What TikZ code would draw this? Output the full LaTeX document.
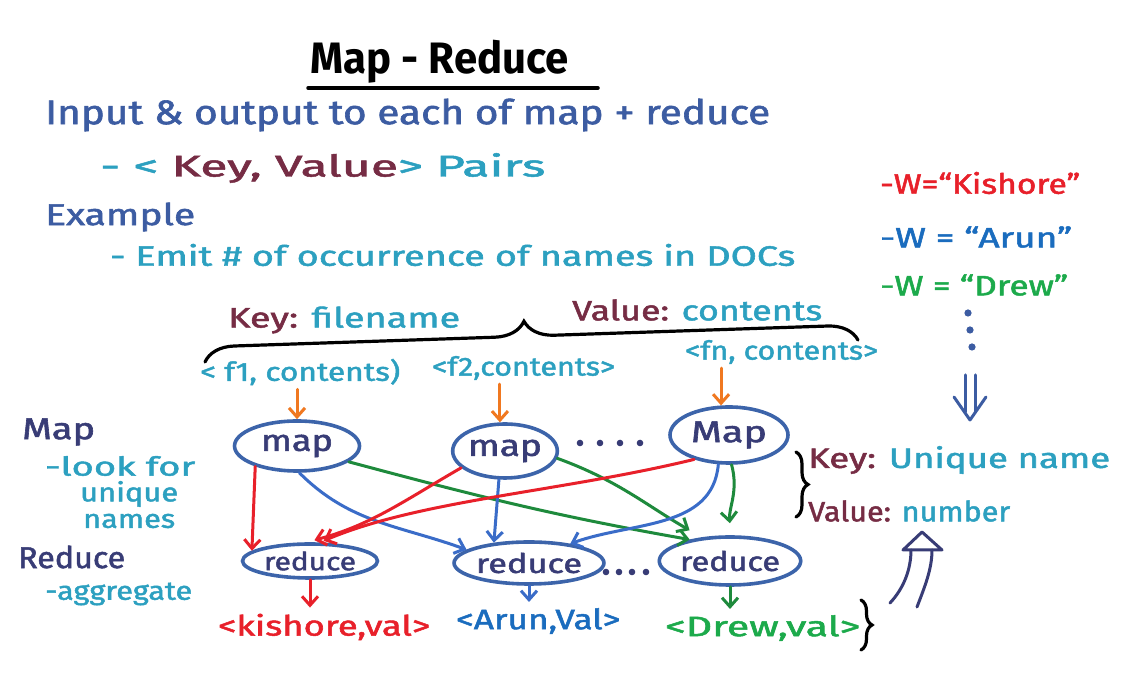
\documentclass[tikz,border=0pt]{standalone}
\usepackage{fontspec}
\setmainfont{Fira Sans}[UprightFeatures={FakeBold=1.6}]
\usepackage{graphicx}
\usetikzlibrary{shapes.geometric, arrows.meta, decorations.pathreplacing, calc}

% ink colours
\definecolor{inkblue}{RGB}{60,92,162}
\definecolor{tealink}{RGB}{44,160,192}
\definecolor{maroonink}{RGB}{118,44,68}
\definecolor{navyink}{RGB}{56,60,118}
\definecolor{ovalblue}{RGB}{60,100,170}
\definecolor{redink}{RGB}{232,32,42}
\definecolor{greenink}{RGB}{30,138,60}
\definecolor{greentext}{RGB}{28,170,75}
\definecolor{bluearrow}{RGB}{58,108,200}
\definecolor{aruninkc}{RGB}{26,108,190}
\definecolor{orangeink}{RGB}{240,120,32}

% stretch a piece of text to a given width, keeping its height
\newcommand\hwbox[2]{\resizebox{#1pt}{\height}{#2}}
\newcommand\fsz[1]{\fontsize{#1}{#1}\selectfont}

\tikzset{
  lbl/.style={inner sep=0pt, anchor=west},
  oval/.style={ellipse, draw=ovalblue, line width=3.6pt, inner sep=0pt, text=navyink},
  pen/.style={line width=3pt, line cap=round, line join=round},
  tip/.style={-{Straight Barb[length=9pt, width=16pt]}},
  bracepen/.style={line width=3.2pt, line cap=round, decorate},
}

\begin{document}
\begin{tikzpicture}[x=1pt, y=1pt]
\useasboundingbox[fill=white] (0,0) rectangle (1122,684);

% ---- heading block ----
\node[inner sep=0pt, font=\fsz{44}\bfseries] (title) at (440,622) {\hwbox{258}{Map - Reduce}};
\draw[line width=3.5pt, line cap=round] (308,596) -- (598,596);

\node[lbl, text=inkblue, font=\fsz{34}] (intro) at (45,569)
  {\hwbox{725}{Input \& output to each of map + reduce}};
\node[lbl, text=tealink, font=\fsz{30}] (pairs) at (100,516)
  {\hwbox{445}{- < \textcolor{maroonink}{Key, Value}> Pairs}};
\node[lbl, text=inkblue, font=\fsz{30}] (example) at (45,467) {\hwbox{150}{Example}};
\node[lbl, text=tealink, font=\fsz{28}] (emit) at (110,429)
  {\hwbox{685}{- Emit \# of occurrence of names in DOCs}};

% ---- key / value over the inputs ----
\node[lbl, text=tealink, font=\fsz{28}] (keyfn) at (228,364)
  {\hwbox{232}{\textcolor{maroonink}{Key:} filename}};
\node[lbl, text=tealink, font=\fsz{28}] (valc) at (572,374)
  {\hwbox{250}{\textcolor{maroonink}{Value:} contents}};
\draw[bracepen, decoration={brace, amplitude=30pt, aspect=0.49}] (205,322) -- (858,344);

\node[lbl, text=tealink, font=\fsz{26}] (f1) at (200,312) {\hwbox{200}{< f1, contents)}};
\node[lbl, text=tealink, font=\fsz{26}] (f2) at (432,316) {\hwbox{183}{<f2,contents>}};
\node[lbl, text=tealink, font=\fsz{26}] (fn) at (685,332) {\hwbox{193}{<fn, contents>}};

% ---- map and reduce nodes ----
\node[oval, minimum width=125pt, minimum height=50pt, font=\fsz{30}] (map1) at (297,238) {\hwbox{72}{map}};
\node[oval, minimum width=104pt, minimum height=54pt, font=\fsz{30}] (map2) at (505,233) {\hwbox{74}{map}};
\node[oval, minimum width=118pt, minimum height=56pt, font=\fsz{30}] (map3) at (729,249) {\hwbox{76}{Map}};

\node[oval, minimum width=135pt, minimum height=34pt, font=\fsz{25}] (red1) at (310,123) {\hwbox{92}{reduce}};
\node[oval, minimum width=124pt, minimum height=42pt, font=\fsz{27}] (red2) at (529,121) {\hwbox{106}{reduce}};
\node[oval, minimum width=135pt, minimum height=48pt, font=\fsz{27}] (red3) at (730,123) {\hwbox{100}{reduce}};

\foreach \x in {580,600,620,640} \fill[navyink] (\x,241) circle (3.3pt);
\foreach \x in {606,619,632,646} \fill[navyink] (\x,112) circle (3.3pt);

% inputs into the maps
\draw[pen, orangeink, tip, shorten <=4pt] (map1.north |- f1.south) -- (map1.north);
\draw[pen, orangeink, tip, shorten <=4pt] (map2.100 |- f2.south) -- (map2.100);
\draw[pen, orangeink, tip, shorten <=4pt] (map3.105 |- fn.south) -- (map3.105);

% shuffle: map outputs to reducers
\draw[pen, redink, tip] (map1.206) -- (red1.170);
\draw[pen, bluearrow, tip] (map1.275) to[out=-45, in=160] (red2.168);
\draw[pen, greenink, tip] (map1.343) to[out=-15, in=170] (red3.152);

\draw[pen, redink, tip, shorten >=8pt] (map2.201) to[out=210, in=15] (red1.100);
\draw[pen, bluearrow, tip] (map2.258) -- (red2.150);
\draw[pen, greenink, tip, shorten >=14pt] (map2.352) to[out=-20, in=150] (red3.140);

\draw[pen, redink, tip, shorten >=4pt] (map3.215) .. controls (560,192) and (420,184) .. (red1.62);
\draw[pen, bluearrow, tip] (map3.250) to[out=265, in=20] (red2.25);
\draw[pen, greenink, tip, shorten >=12pt] (map3.275) to[out=-75, in=95] (red3.88);

% ---- outputs ----
\node[lbl, text=redink, font=\fsz{28}] (out1) at (218,57) {\hwbox{212}{<kishore,val>}};
\node[lbl, text=aruninkc, font=\fsz{28}] (out2) at (456,63) {\hwbox{164}{<Arun,Val>}};
\node[lbl, text=greentext, font=\fsz{28}] (out3) at (665,56) {\hwbox{195}{<Drew,val>}};

\draw[pen, redink, tip, shorten >=6pt] (red1.south) -- (red1.south |- out1.north);
\draw[pen, bluearrow, tip, shorten >=6pt] (red2.south) -- (red2.south |- out2.north);
\draw[pen, greenink, tip, shorten >=6pt] (red3.south) -- (red3.south |- out3.north);
\draw[bracepen, decoration={brace, amplitude=11pt}] (861,84) -- (861,34);

% ---- side labels ----
\node[lbl, text=navyink, font=\fsz{30}] (lmap) at (22,252) {\hwbox{73}{Map}};
\node[lbl, text=tealink, font=\fsz{26}] (look) at (45,218) {\hwbox{150}{-look for}};
\node[lbl, text=tealink, font=\fsz{26}] (uniq) at (80,190) {\hwbox{98}{unique}};
\node[lbl, text=tealink, font=\fsz{26}] (names) at (83,163) {\hwbox{92}{names}};
\node[lbl, text=navyink, font=\fsz{30}] (lred) at (18,127) {\hwbox{107}{Reduce}};
\node[lbl, text=tealink, font=\fsz{26}] (aggr) at (45,90) {\hwbox{147}{-aggregate}};

% ---- words being counted ----
\node[lbl, text=redink, font=\fsz{28}] (wk) at (880,501) {\hwbox{200}{-W=“Kishore”}};
\node[lbl, text=aruninkc, font=\fsz{28}] (wa) at (880,447) {\hwbox{192}{-W = “Arun”}};
\node[lbl, text=greentext, font=\fsz{28}] (wd) at (880,399) {\hwbox{188}{-W = “Drew”}};
\foreach \p in {(968,371),(970,354),(972,337)} \fill[inkblue] \p circle (3.6pt);

\draw[pen, inkblue] (965,309) -- (965,272) (975,309) -- (975,272);
\draw[pen, inkblue] (954,287) -- (970,264) -- (986,287);

% ---- reducer key / value ----
\draw[bracepen, decoration={brace, amplitude=12pt}] (796,232) -- (796,167);
\node[lbl, text=tealink, font=\fsz{28}] (keyu) at (808,224)
  {\hwbox{302}{\textcolor{maroonink}{Key:} Unique name}};
\node[lbl, text=tealink, font=\fsz{28}] (valn) at (808,173)
  {\hwbox{202}{\textcolor{maroonink}{Value:} number}};

\draw[pen, navyink] (890,81) .. controls (904,96) and (911,115) .. (911,134);
\draw[pen, navyink] (917,77) .. controls (925,98) and (932,115) .. (932,134);
\draw[pen, navyink] (903,134) -- (922,152) -- (942,134) -- cycle;

\end{tikzpicture}
\end{document}
